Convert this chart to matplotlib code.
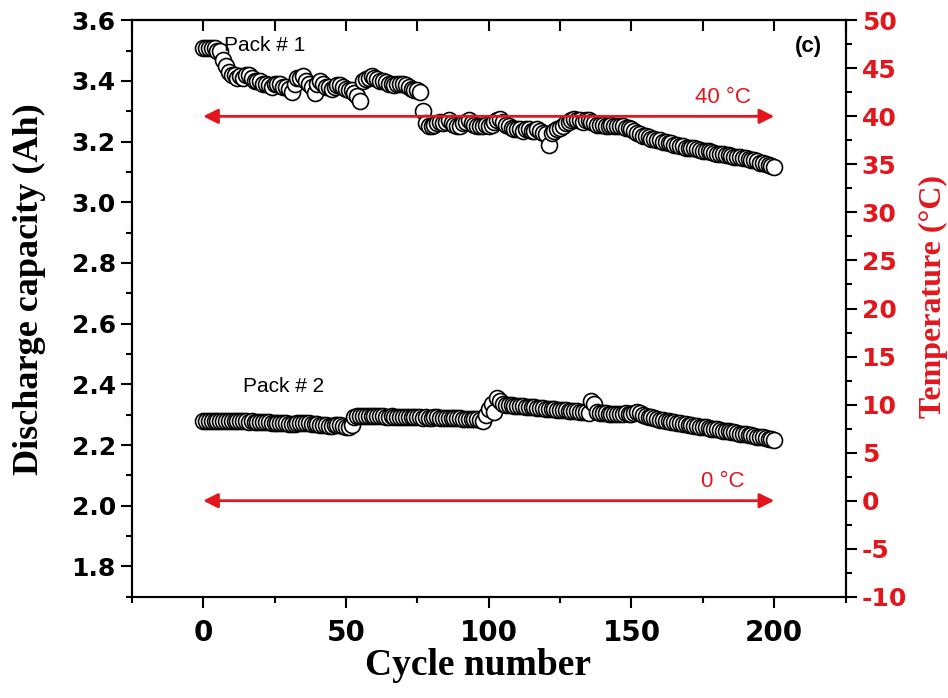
import matplotlib.pyplot as plt
from matplotlib.ticker import MultipleLocator

plt.rcParams['axes.unicode_minus'] = False

# Data: discharge capacity per cycle (cycles 0..200)
cycles = list(range(201))
pack1 = [
    3.51, 3.51, 3.51, 3.51, 3.51, 3.50, 3.50, 3.47, 3.45, 3.43,
    3.42, 3.42, 3.41, 3.415, 3.41, 3.42, 3.42, 3.41, 3.40, 3.40,
    3.40, 3.39, 3.39, 3.385, 3.38, 3.39, 3.39, 3.39, 3.38, 3.38,
    3.375, 3.365, 3.39, 3.41, 3.41, 3.415, 3.40, 3.39, 3.38, 3.36,
    3.39, 3.40, 3.39, 3.38, 3.38, 3.375, 3.38, 3.385, 3.385, 3.38,
    3.375, 3.37, 3.37, 3.36, 3.35, 3.335, 3.40, 3.405, 3.41, 3.415,
    3.41, 3.405, 3.40, 3.40, 3.395, 3.39, 3.39, 3.385, 3.39, 3.39,
    3.39, 3.385, 3.38, 3.375, 3.37, 3.37, 3.365, 3.30, 3.26, 3.25,
    3.25, 3.255, 3.26, 3.265, 3.26, 3.265, 3.27, 3.26, 3.255, 3.25,
    3.25, 3.26, 3.265, 3.27, 3.26, 3.255, 3.25, 3.25, 3.25, 3.255,
    3.25, 3.255, 3.265, 3.27, 3.275, 3.265, 3.255, 3.25, 3.245, 3.24,
    3.24, 3.24, 3.235, 3.24, 3.24, 3.235, 3.235, 3.24, 3.235, 3.23,
    3.225, 3.19, 3.23, 3.235, 3.24, 3.245, 3.25, 3.26, 3.265, 3.27,
    3.275, 3.27, 3.27, 3.265, 3.27, 3.27, 3.265, 3.26, 3.255, 3.255,
    3.255, 3.25, 3.25, 3.255, 3.25, 3.25, 3.25, 3.25, 3.245, 3.245,
    3.24, 3.235, 3.23, 3.225, 3.22, 3.22, 3.215, 3.21, 3.21, 3.205,
    3.205, 3.20, 3.20, 3.195, 3.195, 3.19, 3.19, 3.185, 3.185, 3.18,
    3.18, 3.18, 3.178, 3.175, 3.172, 3.17, 3.17, 3.168, 3.165, 3.162,
    3.16, 3.16, 3.158, 3.155, 3.155, 3.152, 3.15, 3.15, 3.148, 3.145,
    3.145, 3.142, 3.14, 3.138, 3.135, 3.13, 3.128, 3.125, 3.122, 3.12,
    3.118,
]
pack2 = [
    2.280, 2.280, 2.279, 2.280, 2.280, 2.279, 2.279, 2.280, 2.279, 2.279,
    2.279, 2.278, 2.278, 2.279, 2.278, 2.278, 2.277, 2.278, 2.277, 2.277,
    2.277, 2.276, 2.276, 2.275, 2.274, 2.274, 2.273, 2.273, 2.272, 2.272,
    2.271, 2.271, 2.270, 2.272, 2.273, 2.274, 2.274, 2.273, 2.271, 2.270,
    2.268, 2.267, 2.266, 2.265, 2.263, 2.263, 2.265, 2.266, 2.265, 2.262,
    2.260, 2.258, 2.265, 2.293, 2.295, 2.295, 2.296, 2.296, 2.295, 2.295,
    2.296, 2.296, 2.295, 2.295, 2.294, 2.294, 2.295, 2.294, 2.293, 2.293,
    2.293, 2.292, 2.292, 2.293, 2.292, 2.291, 2.291, 2.290, 2.291, 2.290,
    2.290, 2.291, 2.291, 2.290, 2.289, 2.289, 2.288, 2.288, 2.289, 2.288,
    2.288, 2.287, 2.287, 2.287, 2.286, 2.286, 2.285, 2.282, 2.278, 2.300,
    2.320, 2.336, 2.310, 2.355, 2.345, 2.335, 2.333, 2.332, 2.331, 2.330,
    2.330, 2.329, 2.328, 2.327, 2.326, 2.325, 2.324, 2.323, 2.322, 2.321,
    2.320, 2.320, 2.319, 2.318, 2.317, 2.316, 2.315, 2.314, 2.313, 2.312,
    2.312, 2.311, 2.310, 2.310, 2.308, 2.307, 2.345, 2.335, 2.308, 2.306,
    2.305, 2.305, 2.304, 2.304, 2.303, 2.303, 2.303, 2.302, 2.305, 2.302,
    2.302, 2.305, 2.308, 2.306, 2.300, 2.297, 2.294, 2.291, 2.289, 2.286,
    2.284, 2.282, 2.280, 2.278, 2.277, 2.275, 2.273, 2.272, 2.270, 2.268,
    2.267, 2.265, 2.264, 2.262, 2.260, 2.259, 2.258, 2.256, 2.254, 2.253,
    2.252, 2.250, 2.248, 2.247, 2.245, 2.244, 2.242, 2.240, 2.238, 2.237,
    2.235, 2.233, 2.232, 2.230, 2.228, 2.227, 2.225, 2.223, 2.221, 2.219,
    2.217,
]
temps = [40, 0]
temp_labels = ['40 °C', '0 °C']

red = '#e3161c'

fig = plt.figure(figsize=(9.48, 6.98), dpi=100)
ax = fig.add_axes([0.139, 0.145, 0.753, 0.826])
ax2 = ax.twinx()

for series in (pack1, pack2):
    ax.plot(cycles, series, linestyle='none', marker='o', markersize=11.5,
            markerfacecolor='white', markeredgecolor='black', markeredgewidth=1.2)

ax.set_xlim(-25, 225)
ax.set_ylim(1.7, 3.6)
ax2.set_ylim(-10, 50)

# temperature arrows
for t, lab in zip(temps, temp_labels):
    ax2.annotate('', xy=(0, t), xytext=(200, t),
                 arrowprops=dict(arrowstyle='<|-|>', color=red, lw=2,
                                 mutation_scale=22, shrinkA=0, shrinkB=0))
    ax2.text(182, t + 0.9, lab, color=red, fontsize=16, ha='center', va='bottom',
             family='Liberation Sans')

ax.text(21.5, 3.518, 'Pack # 1', fontsize=15, ha='center', va='center', family='Liberation Sans')
ax.text(28, 2.392, 'Pack # 2', fontsize=15, ha='center', va='center', family='Liberation Sans')
ax.text(212, 3.514, '(c)', fontsize=16, fontweight='bold', ha='center', va='center',
        family='Liberation Sans')

# ticks
ax.xaxis.set_major_locator(MultipleLocator(50))
ax.xaxis.set_minor_locator(MultipleLocator(25))
ax.yaxis.set_major_locator(MultipleLocator(0.2))
ax.yaxis.set_minor_locator(MultipleLocator(0.1))
ax2.yaxis.set_major_locator(MultipleLocator(5))
ax2.yaxis.set_minor_locator(MultipleLocator(2.5))

ax.tick_params(axis='both', which='major', direction='out', length=8, width=1.5)
ax.tick_params(axis='both', which='minor', direction='out', length=4, width=1.5)
ax.tick_params(axis='x', pad=8)
ax2.tick_params(axis='y', which='major', direction='out', length=8, width=1.5,
                colors='black', labelcolor=red)
ax2.tick_params(axis='y', which='minor', direction='out', length=4, width=1.5)

top = ax.secondary_xaxis('top')
top.xaxis.set_major_locator(MultipleLocator(50))
top.xaxis.set_minor_locator(MultipleLocator(25))
top.tick_params(which='both', direction='in', length=8, width=1.5, labeltop=False)

for lab in ax.get_yticklabels() + ax2.get_yticklabels():
    lab.set_fontsize(18)
    lab.set_fontweight('bold')
for lab in ax.get_xticklabels():
    lab.set_fontsize(20)
    lab.set_fontweight('bold')

for a in (ax, ax2):
    for s in a.spines.values():
        s.set_linewidth(1.5)
top.spines['top'].set_linewidth(1.5)

ax.set_xlabel('Cycle number', fontsize=27, fontweight='bold', family='Liberation Serif')
ax.set_ylabel('Discharge capacity (Ah)', fontsize=26, fontweight='bold',
              family='Liberation Serif')
ax2.set_ylabel('Temperature (°C)', fontsize=23, fontweight='bold', color=red,
               family='Liberation Serif')
ax.xaxis.set_label_coords(0.485, -0.088)
ax.yaxis.set_label_coords(-0.12, 0.534)
ax2.yaxis.set_label_coords(1.103, 0.52)

fig.savefig('out.png', dpi=100)
